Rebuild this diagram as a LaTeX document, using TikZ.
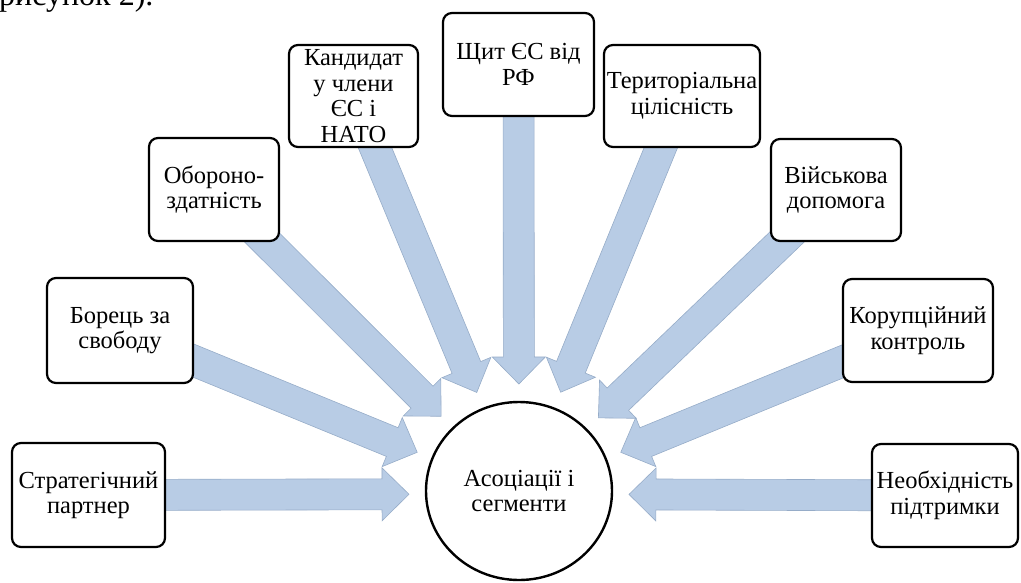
\documentclass[tikz,border=0pt]{standalone}
\usepackage{fontspec}
\setmainfont{Liberation Serif}
\newfontfamily\boxfont{Liberation Serif}
\usetikzlibrary{calc,shapes.geometric}
\pgfdeclarelayer{bg}
\pgfsetlayers{bg,main}
\definecolor{arrfill}{RGB}{184,204,229}
\definecolor{arrline}{RGB}{150,172,200}
\tikzset{
  box/.style={draw=black, line width=2.2pt, rounded corners=9pt, fill=white,
    align=center, inner sep=0pt, font=\boxfont\fontsize{24.5}{25.5}\selectfont},
  hub/.style={draw=black, line width=2.4pt, ellipse, fill=white, inner sep=0pt,
    align=center, font=\boxfont\fontsize{24.5}{25.5}\selectfont},
  radarr/.style={fill=arrfill, draw=arrline, line width=0.6pt, line join=miter},
}
\newcommand\radarrow[2]{%
  \coordinate (hb) at ($(#2)!27pt!(#1)$);
  \filldraw[radarr] ($(#1)!15.5pt!90:(#2)$) -- ($(hb)!15.5pt!90:(#2)$)
    -- ($(hb)!26.5pt!90:(#2)$) -- (#2) -- ($(hb)!26.5pt!-90:(#2)$)
    -- ($(hb)!15.5pt!-90:(#2)$) -- ($(#1)!15.5pt!-90:(#2)$) -- cycle;}
\begin{document}
\begin{tikzpicture}[x=1pt,y=-1pt]
\useasboundingbox (0,0) rectangle (1021,582);
\clip (0,0) rectangle (1021,582);

\node[anchor=base west, inner sep=0pt, font=\boxfont\fontsize{32}{36}\selectfont] (cap) at (-1,5) {рисунок 2).};

\node[box, minimum width=153pt, minimum height=104pt] (b1) at (88.5,495) {Стратегічний\\партнер};
\node[box, minimum width=146pt, minimum height=105pt] (b2) at (120,330.5) {Борець за\\свободу};
\node[box, minimum width=130pt, minimum height=103pt] (b3) at (214,189.5) {Обороно-\\здатність};
\node[box, minimum width=129pt, minimum height=102pt] (b4) at (353.5,96) {Кандидат\\у члени\\ЄС і\\НАТО};
\node[box, minimum width=151pt, minimum height=103pt] (b5) at (518.5,64.5) {Щит ЄС від\\РФ};
\node[box, minimum width=156pt, minimum height=102pt] (b6) at (682,96) {Територіальна\\цілісність};
\node[box, minimum width=130pt, minimum height=102pt] (b7) at (836,190) {Військова\\допомога};
\node[box, minimum width=150pt, minimum height=103pt] (b8) at (918,330.5) {Корупційний\\контроль};
\node[box, minimum width=146pt, minimum height=103pt] (b9) at (945,495.5) {Необхідність\\підтримки};

\node[hub, minimum width=186pt, minimum height=178pt] (c) at (519,491) {Асоціації і\\сегменти};
\coordinate (aim) at (519,494);

\begin{pgfonlayer}{bg}
\foreach \b in {b1,b2,b3,b4,b5,b6,b7,b8,b9}{
  \coordinate (t\b) at ($(aim)!110pt!(\b)$);
  \radarrow{\b}{t\b}
}
\end{pgfonlayer}
\end{tikzpicture}
\end{document}
